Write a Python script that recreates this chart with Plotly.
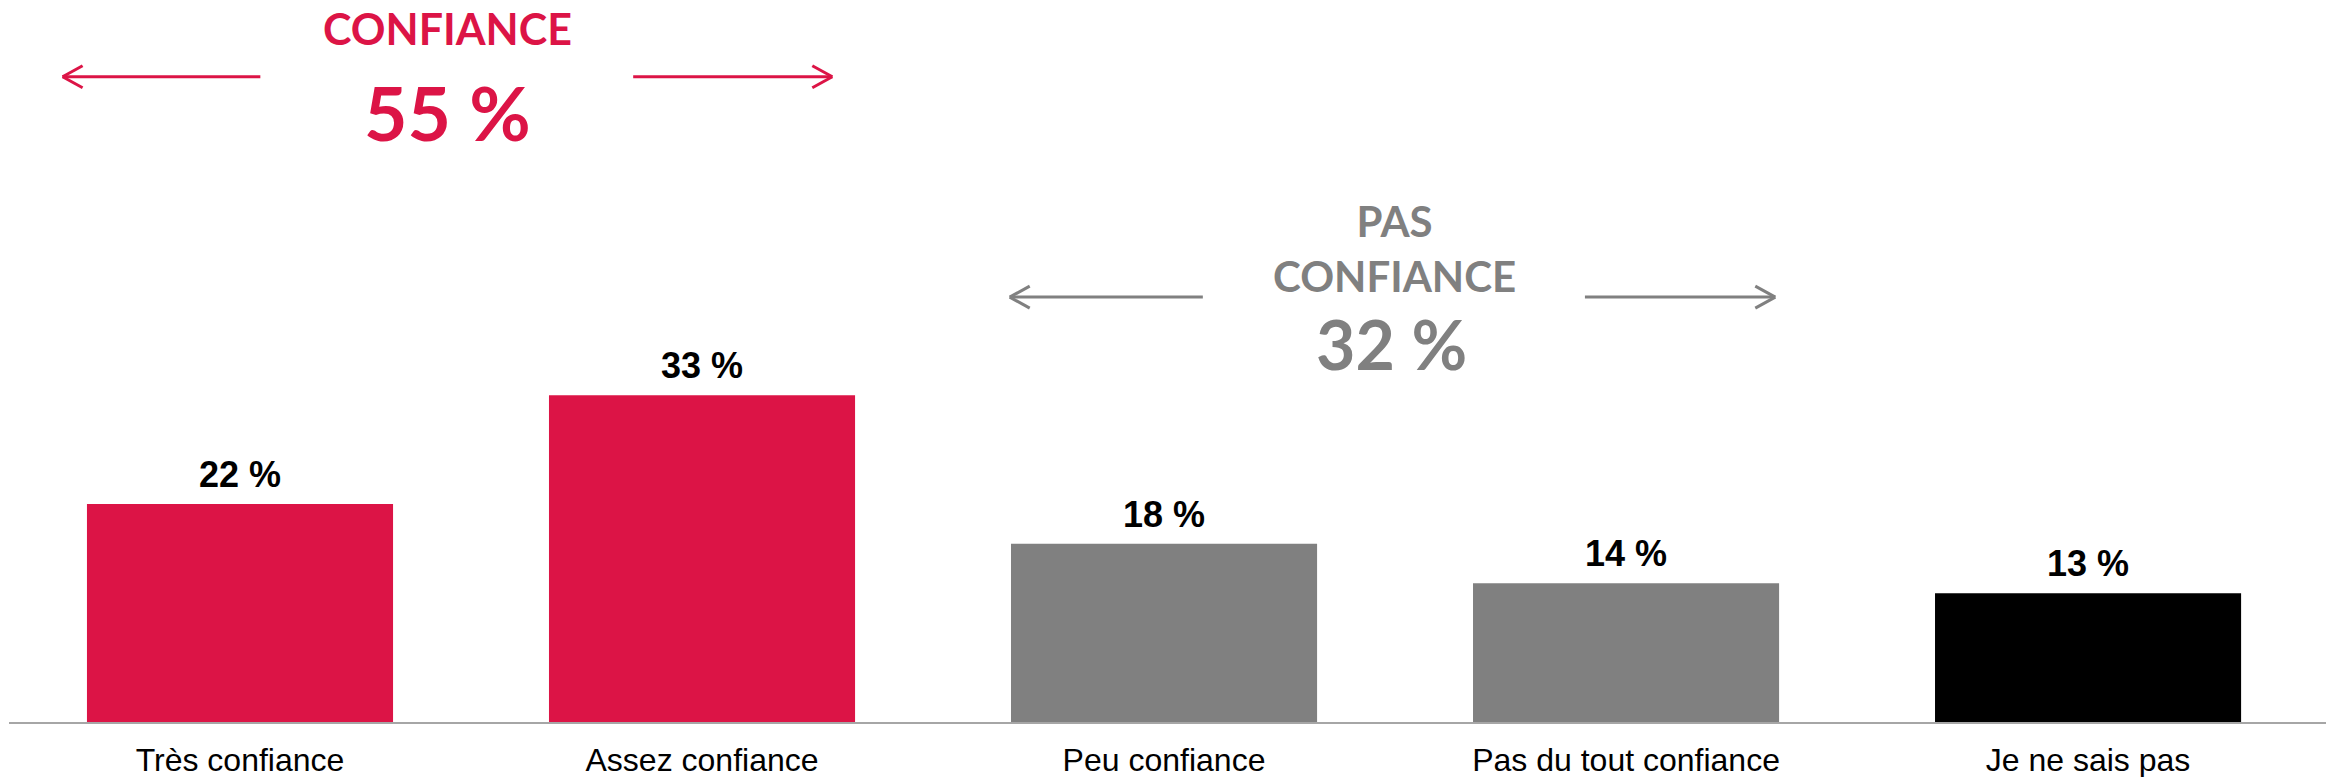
import plotly.graph_objects as go

categories = ["Très confiance", "Assez confiance", "Peu confiance", "Pas du tout confiance", "Je ne sais pas"]
values = [22, 33, 18, 14, 13]
bar_colors = ["#DC1446", "#DC1446", "#808080", "#808080", "#000000"]
value_labels = ["22 %", "33 %", "18 %", "14 %", "13 %"]

group_titles = ["CONFIANCE", "PAS<br>CONFIANCE"]
group_totals = ["55 %", "32 %"]
group_colors = ["#DC1446", "#808080"]

W, H = 2326, 777
ML, MR, MT, MB = 9, 0, 0, 55
XR = [-0.5, 4.515]
YMAX = 72.9
ppx = (W - ML - MR) / (XR[1] - XR[0])   # px per category unit
ppy = (H - MT - MB) / YMAX              # px per y unit

fig = go.Figure()
fig.add_trace(go.Bar(
    x=categories, y=values,
    marker=dict(color=bar_colors, line=dict(width=0)),
    hoverinfo="skip",
))

# value labels above bars
for i, (c, v, lab) in enumerate(zip(categories, values, value_labels)):
    fig.add_annotation(x=i, y=v, xref="x", yref="y", text=f"<b>{lab}</b>",
                       showarrow=False, yanchor="bottom", yshift=7,
                       font=dict(family="Liberation Sans, Arial", size=36, color="#000000"))

def arrow(x_tip, x_end, y, color, width=3):
    fig.add_shape(type="line", xref="x", yref="y", x0=x_tip, x1=x_end, y0=y, y1=y,
                  line=dict(color=color, width=width))
    d = 1 if x_end > x_tip else -1
    dx = 20 / ppx * d
    dy = 11 / ppy
    for s in (1, -1):
        fig.add_shape(type="line", xref="x", yref="y", x0=x_tip, y0=y,
                      x1=x_tip + dx, y1=y + s * dy, line=dict(color=color, width=width))

# red group
arrow(-0.384, 0.044, 65.15, group_colors[0])
arrow(1.282, 0.851, 65.15, group_colors[0])
fig.add_annotation(x=0.450, y=(722 - 28.5) / ppy, xref="x", yref="y", text=f"<b>{group_titles[0]}</b>",
                   showarrow=False, yanchor="middle",
                   font=dict(family="Lato", size=43, color=group_colors[0]))
fig.add_annotation(x=0.450, y=(722 - 112) / ppy, xref="x", yref="y", text=f"<b>{group_totals[0]}</b>",
                   showarrow=False, yanchor="middle",
                   font=dict(family="Lato", size=75, color=group_colors[0]))

# gray group
arrow(1.666, 2.084, 42.9, group_colors[1])
arrow(3.323, 2.911, 42.9, group_colors[1])
fig.add_annotation(x=2.498, y=(722 - 248) / ppy, xref="x", yref="y", text=f"<b>{group_titles[1]}</b>",
                   showarrow=False, yanchor="middle",
                   font=dict(family="Lato", size=42, color=group_colors[1]))
fig.add_annotation(x=2.492, y=(722 - 343) / ppy, xref="x", yref="y", text=f"<b>{group_totals[1]}</b>",
                   showarrow=False, yanchor="middle",
                   font=dict(family="Lato", size=68, color=group_colors[1]))

fig.update_layout(
    width=W, height=H,
    margin=dict(l=ML, r=MR, t=MT, b=MB, pad=0),
    paper_bgcolor="white", plot_bgcolor="white",
    bargap=0.3375, showlegend=False,
    xaxis=dict(showline=True, linecolor="#A6A6A6", linewidth=2, showgrid=False,
               ticks="", automargin=False, range=XR,
               tickfont=dict(family="Liberation Sans, Arial", size=32, color="#000000"),
               ticklabelstandoff=9, zeroline=False),
    yaxis=dict(visible=False, range=[0, YMAX], showgrid=False, zeroline=False),
)

fig.write_html("out.html", config={"displayModeBar": False},
               post_script="document.body.style.margin='0';document.body.style.overflow='hidden';")
